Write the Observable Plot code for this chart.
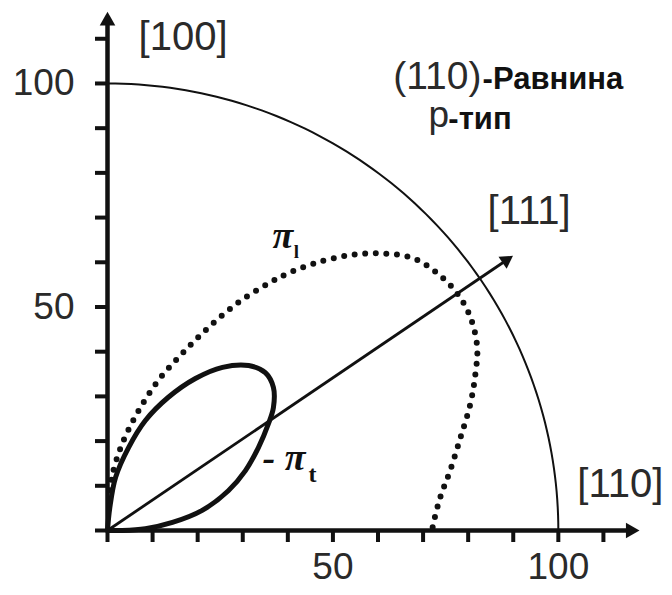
<!DOCTYPE html>
<html>
<head>
<meta charset="utf-8">
<script src="https://cdn.jsdelivr.net/npm/d3@7"></script>
<script src="https://cdn.jsdelivr.net/npm/@observablehq/plot@0.6"></script>
<style>
  html, body { margin: 0; padding: 0; background: #fff; }
  #chart { width: 672px; height: 595px; }
</style>
</head>
<body>
<div id="chart"></div>
<script>
// ---- data ----
const xTicks = [0, 10, 20, 30, 40, 50, 60, 70, 80, 90, 100, 110];
const yTicks = [0, 10, 20, 30, 40, 50, 60, 70, 80, 90, 100, 110];
const xTickLabels = [50, 100];
const yTickLabels = [50, 100];

// longitudinal coefficient pi_l (dotted)
const piLx = [0.5, 1.2, 3.3, 6.9, 11.3, 16.6, 22.4, 29.0, 35.7, 40.0, 45.7, 53.2, 60.5, 67.8, 73.2, 77.6, 80.5, 82.0, 81.6, 80.5, 78.3, 76.0, 73.8, 72.3, 72.0];
const piLy = [9.0, 13.0, 19.5, 26.8, 33.6, 39.6, 45.4, 51.0, 55.3, 57.5, 59.7, 61.5, 62.0, 60.9, 57.5, 53.0, 47.7, 41.0, 35.0, 28.4, 20.8, 13.4, 7.4, 1.6, 0.0];

// transverse coefficient -pi_t (solid loop)
const piTx = [0, 0.5, 1.8, 4.7, 8.4, 13.5, 19.5, 25.5, 31.3, 35.0, 36.8, 36.8, 35.7, 33.5, 30.6, 26.8, 21.0, 14.4, 8.4, 3.0, 0];
const piTy = [0, 5.0, 11.9, 18.6, 24.6, 29.8, 34.0, 36.5, 36.9, 35.3, 32.0, 27.5, 23.9, 18.6, 13.4, 8.9, 4.5, 1.8, 0.4, 0.0, 0];

const referenceRadius = 100;          // quarter circle |pi| = 100
const dir111 = {x: 90, y: 61.5};      // [111] direction arrow end
const axisEnds = {x: 116, y: 114};

const labelsDirections = ["[100]", "[111]", "[110]"];
const labelPlane = ["(110)", "-Равнина"];
const labelType = ["p", "-тип"];

// ---- derived tables ----
const piL = piLx.map((x, i) => ({x, y: piLy[i]}));
const piT = piTx.map((x, i) => ({x, y: piTy[i]}));
const arc = d3.range(0, 90.5, 1).map(a => ({
  x: referenceRadius * Math.cos(a * Math.PI / 180),
  y: referenceRadius * Math.sin(a * Math.PI / 180)
}));

const ink = "#111";
const txt = "#2a2a2a";
const sans = "'Liberation Sans', Arial, Helvetica, sans-serif";
const serif = "'Liberation Serif', 'Times New Roman', serif";

const chart = Plot.plot({
  width: 672,
  height: 595,
  marginLeft: 107,
  marginRight: 24,
  marginTop: 2.5,
  marginBottom: 65,
  x: {domain: [0, 120]},
  y: {domain: [0, 118]},
  style: {background: "white", fontFamily: sans, overflow: "visible"},
  marks: [
    // ticks
    Plot.axisX({ticks: xTicks, tickSize: 12, text: null, stroke: ink, strokeWidth: 4, label: null}),
    Plot.axisY({ticks: yTicks, tickSize: 12, text: null, stroke: ink, strokeWidth: 4, label: null}),
    // tick labels
    Plot.axisX({ticks: xTickLabels, tickSize: 0, tickPadding: 22, fontSize: 37, fill: txt, label: null}),
    Plot.axisY({ticks: yTickLabels, tickSize: 0, tickPadding: 33, fontSize: 37, fill: txt, label: null}),
    // axis lines
    Plot.ruleY([0], {x1: 0, x2: axisEnds.x, stroke: ink, strokeWidth: 4.5}),
    Plot.ruleX([0], {y1: 0, y2: axisEnds.y, stroke: ink, strokeWidth: 4.5}),
    Plot.dot([{x: axisEnds.x, y: 0}], {x: "x", y: "y", symbol: "triangle", r: 5.8, fill: ink, stroke: null, rotate: 90}),
    Plot.dot([{x: 0, y: axisEnds.y}], {x: "x", y: "y", symbol: "triangle", r: 5.8, fill: ink, stroke: null, rotate: 0}),
    // reference quarter circle
    Plot.line(arc, {x: "x", y: "y", stroke: ink, strokeWidth: 2}),
    // [111] arrow
    Plot.link([{x1: 0, y1: 0, x2: dir111.x - 1.6, y2: dir111.y - 1.1}], {x1: "x1", y1: "y1", x2: "x2", y2: "y2", stroke: ink, strokeWidth: 2.8}),
    Plot.dot([{x: dir111.x - 1.6, y: dir111.y - 1.1}], {x: "x", y: "y", symbol: "triangle", r: 5.4, fill: ink, stroke: null, rotate: 56}),
    // pi_l dotted
    Plot.line(piL, {x: "x", y: "y", curve: "catmull-rom", stroke: ink, strokeWidth: 6, strokeDasharray: "0 10.6", strokeLinecap: "round"}),
    // -pi_t solid loop
    Plot.line(piT, {x: "x", y: "y", curve: "catmull-rom", stroke: ink, strokeWidth: 5, strokeLinejoin: "round"}),
    // direction labels
    Plot.text([labelsDirections[0]], {x: 6.9, y: 110.3, text: d => d, textAnchor: "start", fontSize: 40, fill: txt, fontFamily: sans}),
    Plot.text([labelsDirections[1]], {x: 84.3, y: 71.4, text: d => d, textAnchor: "start", fontSize: 40, fill: txt, fontFamily: sans}),
    Plot.text([labelsDirections[2]], {x: 104.2, y: 10.3, text: d => d, textAnchor: "start", fontSize: 40, fill: txt, fontFamily: sans}),
    // plane / type labels
    Plot.text([labelPlane[0]], {x: 63.4, y: 101.6, text: d => d, textAnchor: "start", fontSize: 39, fill: txt, fontFamily: sans}),
    Plot.text([labelPlane[1]], {x: 83.2, y: 101.0, text: d => d, textAnchor: "start", fontSize: 31, fontWeight: "bold", fill: ink, fontFamily: sans}),
    Plot.text([labelType[0]], {x: 71.2, y: 92.8, text: d => d, textAnchor: "start", fontSize: 37, fill: txt, fontFamily: sans}),
    Plot.text([labelType[1]], {x: 75.6, y: 92.1, text: d => d, textAnchor: "start", fontSize: 31, fontWeight: "bold", fill: ink, fontFamily: sans}),
    // curve labels
    Plot.text(["π"], {x: 36.6, y: 66.0, text: d => d, textAnchor: "start", fontSize: 38, fontStyle: "italic", fontWeight: "bold", fill: ink, fontFamily: serif}),
    Plot.text(["l"], {x: 41.3, y: 62.4, text: d => d, textAnchor: "start", fontSize: 19, fontWeight: "bold", fill: ink, fontFamily: serif}),
    Plot.text(["- π"], {x: 34.4, y: 16.2, text: d => d, textAnchor: "start", fontSize: 38, fontStyle: "italic", fontWeight: "bold", fill: ink, fontFamily: serif}),
    Plot.text(["t"], {x: 44.6, y: 12.6, text: d => d, textAnchor: "start", fontSize: 24, fontWeight: "bold", fill: ink, fontFamily: serif})
  ]
});

document.getElementById("chart").appendChild(chart);
</script>
</body>
</html>
